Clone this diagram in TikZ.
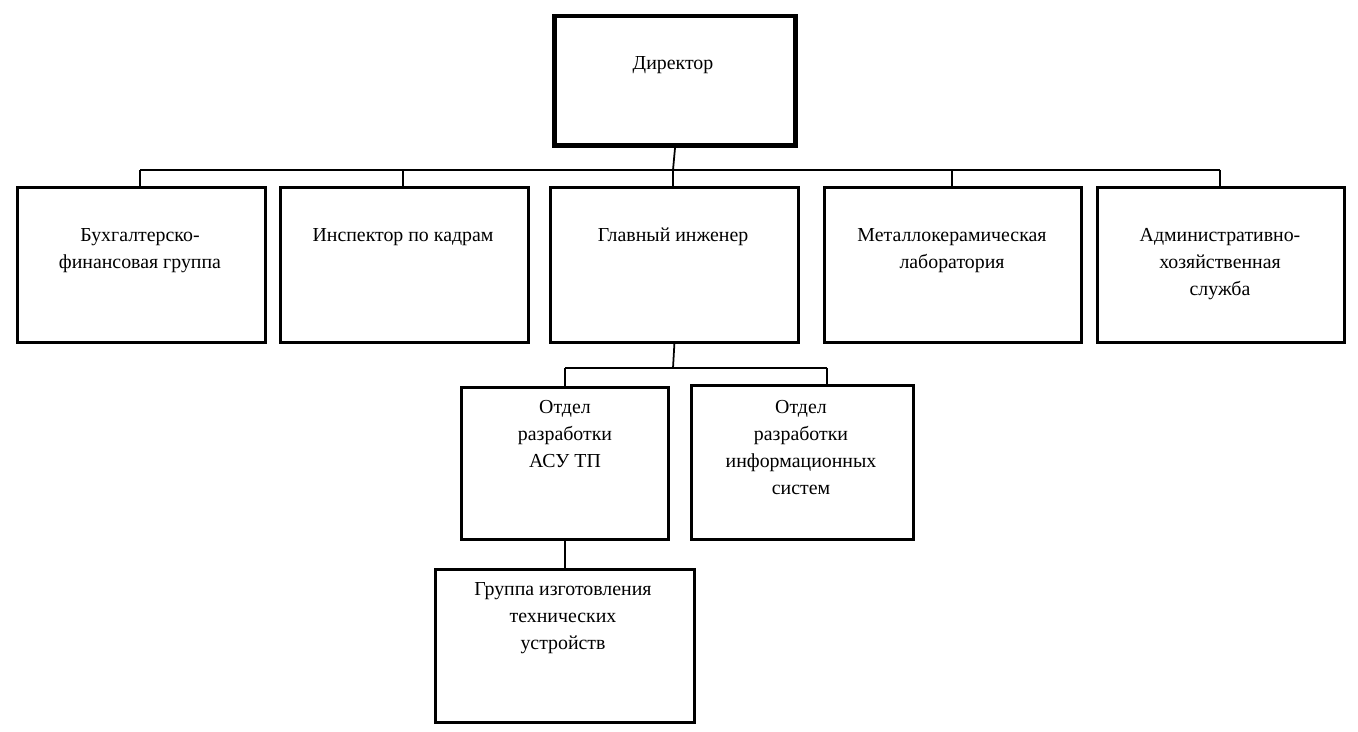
\documentclass[tikz,border=0pt]{standalone}
\usepackage{fontspec}
\setmainfont{Liberation Serif}
\begin{document}
\begin{tikzpicture}[x=0.02cm,y=-0.02cm,
  box/.style={rectangle,draw,line width=1.6pt,inner sep=0pt,anchor=north west},
  txt/.style={align=center,anchor=north,inner sep=0pt,font=\fontsize{11.3}{15.4}\selectfont},
  link/.style={line width=1pt}]
\useasboundingbox (0,0) rectangle (1358,732);
% director
\node[box,line width=2.4pt,minimum width=4.8cm,minimum height=2.58cm] (dir) at (553,14) {};
\draw[line width=0.6pt] ([shift={(-0.08,0.08)}]dir.north west) rectangle ([shift={(0.08,-0.08)}]dir.south east);
\node[txt] (tdir) at (673,56) {Директор};
% first level
\node[box,minimum width=4.96cm,minimum height=3.1cm] (buh) at (16,186) {};
\node[box,minimum width=4.96cm,minimum height=3.1cm] (insp) at (279,186) {};
\node[box,minimum width=4.96cm,minimum height=3.1cm] (eng) at (549,186) {};
\node[box,minimum width=5.14cm,minimum height=3.1cm] (lab) at (823,186) {};
\node[box,minimum width=4.94cm,minimum height=3.1cm] (adm) at (1096,186) {};
\node[txt] (tbuh) at (140,228) {Бухгалтерско-\\финансовая группа};
\node[txt] (tinsp) at (403,228) {Инспектор по кадрам};
\node[txt] (teng) at (673,228) {Главный инженер};
\node[txt] (tlab) at (952,228) {Металлокерамическая\\лаборатория};
\node[txt] (tadm) at (1220,228) {Административно-\\хозяйственная\\служба};
\coordinate (bus) at (673,170);
\draw[link] (dir.south) -- (bus);
\foreach \n/\xx in {buh/140,insp/403,eng/673,lab/952,adm/1220}
  \draw[link] (\xx,170) -- (\n.north -| \xx,170);
\draw[link] (140,170) -- (1220,170);
% second level
\node[box,minimum width=4.14cm,minimum height=3.04cm] (asu) at (460,386) {};
\node[box,minimum width=4.44cm,minimum height=3.08cm] (is) at (690,384) {};
\node[txt] (tasu) at (565,400) {Отдел\\разработки\\АСУ ТП};
\node[txt] (tis) at (801,400) {Отдел\\разработки\\информационных\\систем};
\draw[link] (eng.south) -- (673,368);
\draw[link] (565,368) -- (827,368);
\draw[link] (565,368) -- (asu.north -| 565,368);
\draw[link] (827,368) -- (is.north -| 827,368);
% third level
\node[box,minimum width=5.18cm,minimum height=3.06cm] (grp) at (434,568) {};
\node[txt] (tgrp) at (563,582) {Группа изготовления\\технических\\устройств};
\draw[link] (asu.south -| 565,0) -- (grp.north -| 565,0);
\end{tikzpicture}
\end{document}
